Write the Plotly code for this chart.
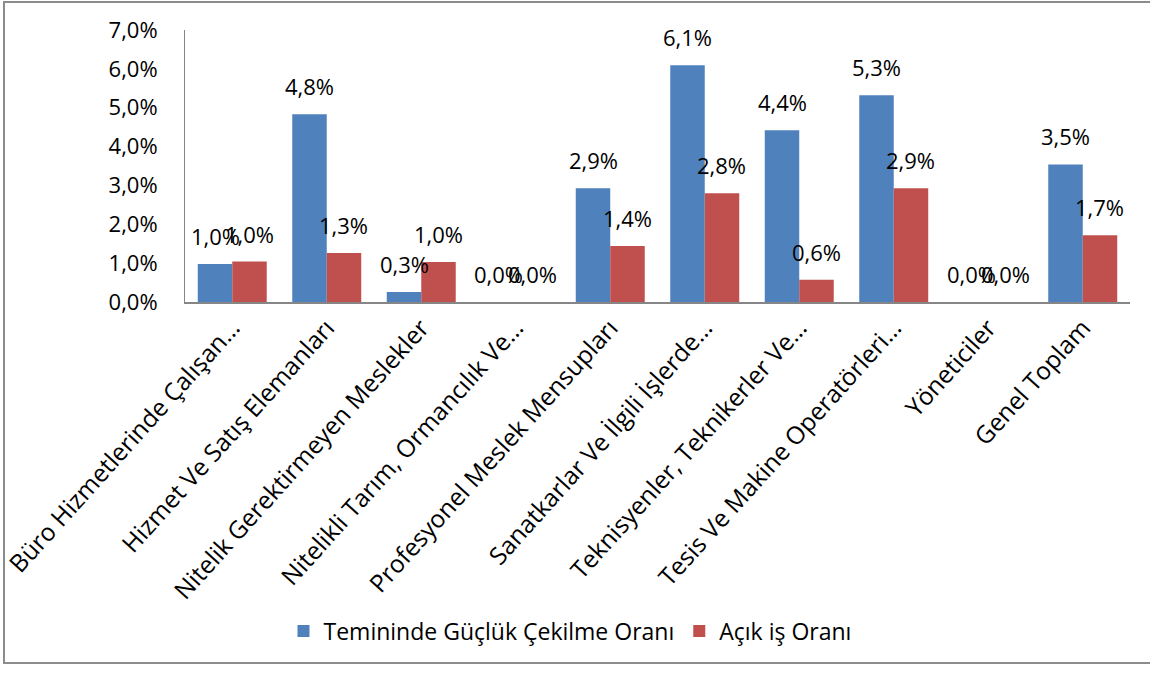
import plotly.graph_objects as go

categories = [
    "Büro Hizmetlerinde Çalışan…",
    "Hizmet Ve Satış Elemanları",
    "Nitelik Gerektirmeyen Meslekler",
    "Nitelikli Tarım, Ormancılık Ve…",
    "Profesyonel Meslek Mensupları",
    "Sanatkarlar Ve İlgili İşlerde…",
    "Teknisyenler, Teknikerler Ve…",
    "Tesis Ve Makine Operatörleri…",
    "Yöneticiler",
    "Genel Toplam",
]
temininde = [0.98, 4.83, 0.26, 0.0, 2.93, 6.09, 4.42, 5.32, 0.0, 3.54]
acik_is = [1.04, 1.26, 1.03, 0.0, 1.44, 2.80, 0.57, 2.93, 0.0, 1.72]

series_names = ["Temininde Güçlük Çekilme Oranı", "Açık iş Oranı"]
colors = ["#4F81BD", "#C0504D"]

FONT = "Open Sans, Carlito, Calibri, sans-serif"

fig = go.Figure()
for name, vals, col in zip(series_names, [temininde, acik_is], colors):
    fig.add_trace(go.Bar(x=categories, y=vals, name=name, marker_color=col,
                         marker_line_width=0))

W, H = 1150, 674
L, R, T, B = 185, 20, 30, 372
plot_w = W - L - R
plot_h = H - T - B
cat_w = plot_w / len(categories)
bargap = 0.27
bar_w = cat_w * (1 - bargap) / 2

annotations = []
for si, vals in enumerate([temininde, acik_is]):
    shift = (-0.5 + si) * bar_w
    for c, v in zip(categories, vals):
        annotations.append(dict(
            x=c, y=v, xref="x", yref="y", xshift=shift, yshift=11,
            text=f"{v:.1f}".replace(".", ",") + "%",
            showarrow=False, yanchor="bottom", xanchor="center",
            font=dict(size=22, color="black", family=FONT)))

def px2paper_x(px):
    return (px - L) / plot_w

def px2paper_y(py):
    return (H - B - py) / plot_h

fig.update_layout(
    width=W, height=H, autosize=False,
    margin=dict(l=L, r=R, t=T, b=B, pad=0, autoexpand=False),
    paper_bgcolor="white", plot_bgcolor="white",
    font=dict(family=FONT, size=22, color="black"),
    separators=",.",
    barmode="group", bargap=bargap, bargroupgap=0,
    showlegend=True,
    legend=dict(orientation="h", x=px2paper_x(570), y=px2paper_y(631),
                xanchor="center", yanchor="middle",
                font=dict(size=23, family=FONT), itemwidth=30,
                tracegroupgap=0),
    annotations=annotations,
    shapes=[dict(type="rect", xref="paper", yref="paper",
                 x0=px2paper_x(4), x1=px2paper_x(1170),
                 y0=px2paper_y(663), y1=px2paper_y(2),
                 line=dict(color="#8c8c8c", width=2), layer="below")],
)
fig.update_yaxes(range=[0, 7], dtick=1, tick0=0, tickformat=".1f", ticksuffix="%",
                 showgrid=False, zeroline=False, showline=True, linecolor="#868686",
                 linewidth=1, ticks="", tickfont=dict(size=22, family=FONT),
                 ticklabelstandoff=22, automargin=False)
fig.update_xaxes(tickangle=-48, showgrid=False, showline=True, linecolor="#868686",
                 linewidth=1.5, ticks="", tickfont=dict(size=24.5, family=FONT),
                 automargin=False)

fig.write_html("out.html", config={"displayModeBar": False},
               post_script="document.body.style.margin='0px';")
